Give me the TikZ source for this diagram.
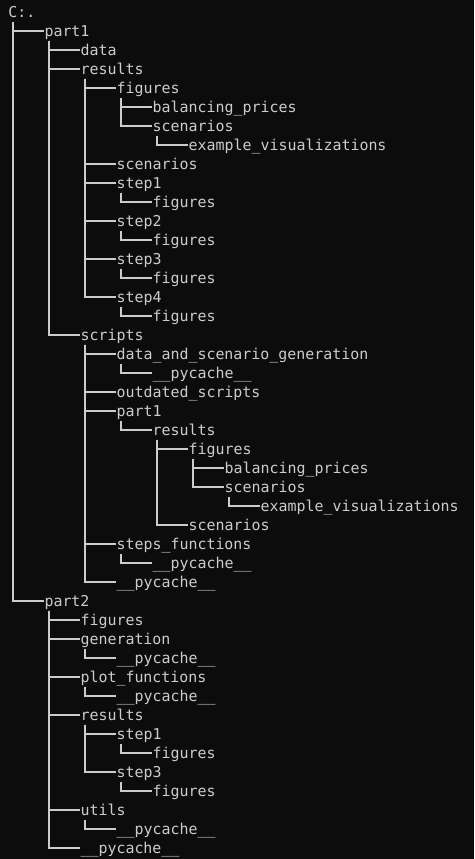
\documentclass[tikz,border=0pt]{standalone}
\usepackage{fontspec}
\newfontfamily\tmono{DejaVu Sans Mono}
\definecolor{termbg}{HTML}{0C0C0C}
\definecolor{termfg}{HTML}{CCCCCC}
\begin{document}
\begin{tikzpicture}[x=1pt,y=-1pt,
  t/.style={anchor=west,inner sep=0pt,text height=15pt,text depth=4pt,text=termfg,font=\tmono\fontsize{14.95}{19}\selectfont},
  ln/.style={draw=termfg,line width=2pt}]
\fill[termbg] (0,0) rectangle (474,859);
\useasboundingbox (0,0) rectangle (474,859);
\node[t] (root) at (8.3,12) {C:.};
\node[t] (p1) at (44.3,31) {part1};
\node[t] (p1data) at (80.3,50) {data};
\node[t] (p1res) at (80.3,69) {results};
\node[t] (p1resfig) at (116.3,88) {figures};
\node[t] (bal1) at (152.3,107) {balancing\_prices};
\node[t] (scen1) at (152.3,126) {scenarios};
\node[t] (ex1) at (188.3,145) {example\_visualizations};
\node[t] (scen2) at (116.3,164) {scenarios};
\node[t] (s1) at (116.3,183) {step1};
\node[t] (s1fig) at (152.3,202) {figures};
\node[t] (s2) at (116.3,221) {step2};
\node[t] (s2fig) at (152.3,240) {figures};
\node[t] (s3) at (116.3,259) {step3};
\node[t] (s3fig) at (152.3,278) {figures};
\node[t] (s4) at (116.3,297) {step4};
\node[t] (s4fig) at (152.3,316) {figures};
\node[t] (scripts) at (80.3,335) {scripts};
\node[t] (dasg) at (116.3,354) {data\_and\_scenario\_generation};
\node[t] (pyc1) at (152.3,373) {\_\_pycache\_\_};
\node[t] (outd) at (116.3,392) {outdated\_scripts};
\node[t] (sp1) at (116.3,411) {part1};
\node[t] (sp1res) at (152.3,430) {results};
\node[t] (sp1fig) at (188.3,449) {figures};
\node[t] (bal2) at (224.3,468) {balancing\_prices};
\node[t] (scen3) at (224.3,487) {scenarios};
\node[t] (ex2) at (260.3,506) {example\_visualizations};
\node[t] (scen4) at (188.3,525) {scenarios};
\node[t] (stepf) at (116.3,544) {steps\_functions};
\node[t] (pyc2) at (152.3,563) {\_\_pycache\_\_};
\node[t] (pyc3) at (116.3,582) {\_\_pycache\_\_};
\node[t] (p2) at (44.3,601) {part2};
\node[t] (p2fig) at (80.3,620) {figures};
\node[t] (gen) at (80.3,639) {generation};
\node[t] (pyc4) at (116.3,658) {\_\_pycache\_\_};
\node[t] (plotf) at (80.3,677) {plot\_functions};
\node[t] (pyc5) at (116.3,696) {\_\_pycache\_\_};
\node[t] (p2res) at (80.3,715) {results};
\node[t] (p2s1) at (116.3,734) {step1};
\node[t] (p2s1fig) at (152.3,753) {figures};
\node[t] (p2s3) at (116.3,772) {step3};
\node[t] (p2s3fig) at (152.3,791) {figures};
\node[t] (utils) at (80.3,810) {utils};
\node[t] (pyc6) at (116.3,829) {\_\_pycache\_\_};
\node[t] (pyc7) at (80.3,848) {\_\_pycache\_\_};
\foreach \p/\c in {root/p1,root/p2,
  p1/p1data,p1/p1res,p1/scripts,
  p1res/p1resfig,p1res/scen2,p1res/s1,p1res/s2,p1res/s3,p1res/s4,
  p1resfig/bal1,p1resfig/scen1,scen1/ex1,
  s1/s1fig,s2/s2fig,s3/s3fig,s4/s4fig,
  scripts/dasg,scripts/outd,scripts/sp1,scripts/stepf,scripts/pyc3,
  dasg/pyc1,sp1/sp1res,sp1res/sp1fig,sp1res/scen4,
  sp1fig/bal2,sp1fig/scen3,scen3/ex2,stepf/pyc2,
  p2/p2fig,p2/gen,p2/plotf,p2/p2res,p2/utils,p2/pyc7,
  gen/pyc4,plotf/pyc5,p2res/p2s1,p2res/p2s3,
  p2s1/p2s1fig,p2s3/p2s3fig,utils/pyc6}
  \draw[ln] ([xshift=4.5pt]\p.south west) |- (\c.west);
\end{tikzpicture}
\end{document}
